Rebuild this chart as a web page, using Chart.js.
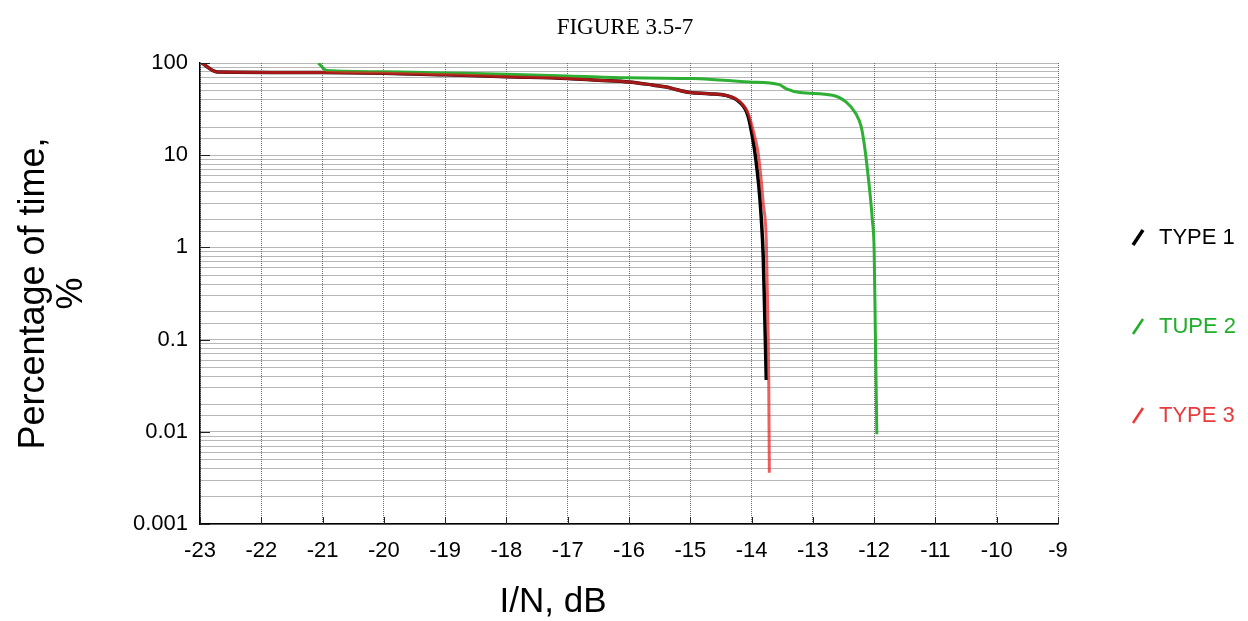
<!DOCTYPE html>
<html>
<head>
<meta charset="utf-8">
<title>Figure 3.5-7</title>
<script src="https://cdn.jsdelivr.net/npm/chart.js@4"></script>
<style>
  html, body { margin: 0; padding: 0; background: #fff; }
  #wrap { width: 1248px; height: 621px; }
</style>
</head>
<body>
<div id="wrap"><canvas id="figChart"></canvas></div>
<script>
// I/N in dB against percentage of time exceeded
const type1X = [-22.97, -22.72, -21, -20, -19, -18, -17, -16.5, -16, -15.6, -15.39, -15.23, -15.0, -14.7, -14.42, -14.2, -14.06, -13.98, -13.93, -13.88, -13.84, -13.81, -13.79, -13.76];
const type1Y = [100, 80, 79, 77.5, 74.5, 71, 68, 65, 62.3, 57.5, 55, 51.5, 47.8, 46.5, 44.5, 37.8, 27, 15, 9, 4.5, 2.0, 0.8, 0.25, 0.0365];

const type2X = [-21.07, -20.93, -20, -19, -18, -17, -16, -15, -14.85, -14.04, -13.55, -13.44, -13.21, -12.68, -12.46, -12.30, -12.21, -12.16, -12.12, -12.07, -12.03, -12.0, -11.98, -11.956];
const type2Y = [100, 83, 80.5, 78, 75.5, 72.5, 69, 67.8, 67.5, 62.2, 58.3, 52.8, 47.8, 44.7, 37.8, 28.3, 20.3, 13, 8, 4, 2, 0.93, 0.117, 0.0094];

const type3X = [-22.97, -22.72, -21, -20, -19, -18, -17, -16.5, -16, -15.6, -15.39, -15.23, -15.0, -14.7, -14.42, -14.2, -14.05, -13.95, -13.90, -13.85, -13.81, -13.76, -13.74, -13.72, -13.71];
const type3Y = [100, 80, 79, 77.5, 74.5, 71, 68, 65, 62.3, 57.5, 55, 51.5, 47.8, 46.5, 44.5, 38.5, 28, 16, 11.3, 6.0, 3.0, 1.2, 0.27, 0.036, 0.0036];

const seriesNames = ['TYPE 1', 'TUPE 2', 'TYPE 3'];
const xTicks = [-23, -22, -21, -20, -19, -18, -17, -16, -15, -14, -13, -12, -11, -10, -9];
const yTicks = [0.001, 0.01, 0.1, 1, 10, 100];

function toPoints(xs, ys) {
    return xs.map((x, i) => ({ x: x, y: ys[i] }));
}

const FONT = "'Liberation Sans', Arial, sans-serif";

// short inward tick marks on the left and bottom axes
const innerTicks = {
    id: 'innerTicks',
    afterDatasetsDraw(chart) {
        const { ctx, chartArea, scales } = chart;
        ctx.save();
        ctx.strokeStyle = '#222';
        ctx.lineWidth = 1;
        ctx.beginPath();
        xTicks.forEach((v) => {
            const px = Math.round(scales.x.getPixelForValue(v)) + 0.5;
            ctx.moveTo(px, chartArea.bottom);
            ctx.lineTo(px, chartArea.bottom - 7);
        });
        yTicks.forEach((v) => {
            const py = Math.round(scales.y.getPixelForValue(v)) + 0.5;
            ctx.moveTo(chartArea.left, py);
            ctx.lineTo(chartArea.left + 10, py);
        });
        ctx.stroke();
        ctx.restore();
    }
};

// figure caption, x axis title and the legend at the right
const sideText = {
    id: 'sideText',
    afterDraw(chart) {
        const { ctx } = chart;
        ctx.save();
        ctx.fillStyle = '#000';
        ctx.textAlign = 'center';
        ctx.textBaseline = 'middle';
        ctx.font = "23px 'Liberation Serif', 'Times New Roman', serif";
        ctx.fillText('FIGURE 3.5-7', 625, 28);

        ctx.font = '35px ' + FONT;
        ctx.fillText('I/N, dB', 553, 602);

        const rows = [237, 326, 415];
        ctx.font = '22px ' + FONT;
        ctx.textAlign = 'left';
        chart.data.datasets.forEach((ds, i) => {
            const y = rows[i];
            ctx.strokeStyle = ds.legendColor;
            ctx.fillStyle = ds.legendColor;
            ctx.lineWidth = i === 0 ? 3.5 : 2.5;
            ctx.beginPath();
            ctx.moveTo(1133, y + 8);
            ctx.lineTo(1143, y - 7);
            ctx.stroke();
            ctx.fillText(ds.label, 1159, y + 1);
        });
        ctx.restore();
    }
};

const ctx = document.getElementById('figChart').getContext('2d');

new Chart(ctx, {
    type: 'line',
    data: {
        datasets: [
            {
                label: seriesNames[0],
                data: toPoints(type1X, type1Y),
                borderColor: '#000000',
                legendColor: '#000000',
                borderWidth: 3.5,
                order: 3
            },
            {
                label: seriesNames[1],
                data: toPoints(type2X, type2Y),
                borderColor: 'rgba(34, 172, 40, 0.95)',
                legendColor: '#1fae2a',
                borderWidth: 3,
                order: 2
            },
            {
                label: seriesNames[2],
                data: toPoints(type3X, type3Y),
                borderColor: 'rgba(232, 34, 34, 0.72)',
                legendColor: '#e83a3a',
                borderWidth: 3,
                order: 1
            }
        ]
    },
    options: {
        responsive: true,
        maintainAspectRatio: false,
        animation: false,
        parsing: false,
        layout: { padding: { left: 0, right: 190, top: 63, bottom: 0 } },
        elements: {
            point: { radius: 0 },
            line: { cubicInterpolationMode: 'monotone', fill: false }
        },
        plugins: {
            legend: { display: false },
            tooltip: { enabled: false }
        },
        scales: {
            x: {
                type: 'linear',
                min: -23,
                max: -9,
                afterFit: (scale) => { scale.height = 97; },
                afterBuildTicks: (scale) => { scale.ticks = xTicks.map((v) => ({ value: v })); },
                ticks: {
                    color: '#000',
                    font: { family: FONT, size: 22 },
                    padding: 14,
                    maxRotation: 0
                },
                grid: {
                    color: '#6e6e6e',
                    lineWidth: 1,
                    drawTicks: false
                },
                border: { display: true, color: '#000', width: 1.5, dash: [1, 1] }
            },
            y: {
                type: 'logarithmic',
                min: 0.001,
                max: 100,
                afterFit: (scale) => { scale.width = 200; },
                ticks: {
                    autoSkip: false,
                    color: '#000',
                    font: { family: FONT, size: 22 },
                    padding: 12,
                    callback: (value) => {
                        const hit = yTicks.find((t) => Math.abs(t - value) / t < 1e-6);
                        return hit === undefined ? '' : String(hit);
                    }
                },
                grid: {
                    color: '#6e6e6e',
                    lineWidth: 1,
                    drawTicks: false
                },
                border: { display: true, color: '#000', width: 1.5, dash: [1, 1] },
                title: {
                    display: true,
                    text: ['Percentage of time,', '%'],
                    color: '#000',
                    font: { family: FONT, size: 36, lineHeight: 1.05 },
                    padding: { top: 15 }
                }
            }
        }
    },
    plugins: [innerTicks, sideText]
});
</script>
</body>
</html>
